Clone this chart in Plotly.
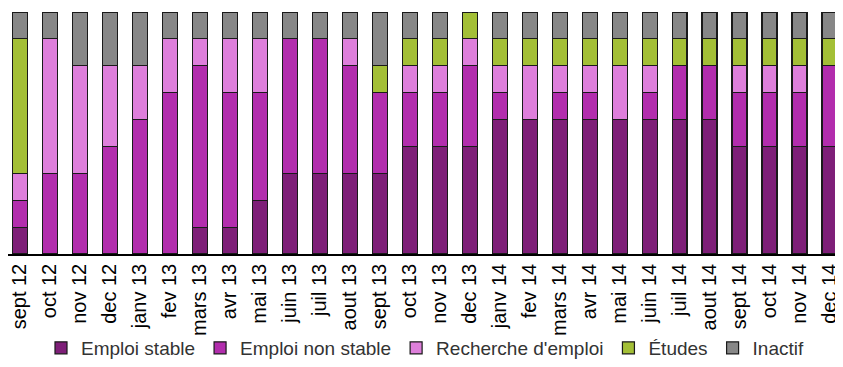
import plotly.graph_objects as go

# monthly situation of the cohort (number of people, 9 in total)
mois = ["sept 12", "oct 12", "nov 12", "dec 12", "janv 13", "fev 13", "mars 13",
        "avr 13", "mai 13", "juin 13", "juil 13", "aout 13", "sept 13", "oct 13",
        "nov 13", "dec 13", "janv 14", "fev 14", "mars 14", "avr 14", "mai 14",
        "juin 14", "juil 14", "aout 14", "sept 14", "oct 14", "nov 14", "dec 14"]

emploi_stable = [1, 0, 0, 0, 0, 0, 1, 1, 2, 3, 3, 3, 3, 4,
                 4, 4, 5, 5, 5, 5, 5, 5, 5, 5, 4, 4, 4, 4]
emploi_non_stable = [1, 3, 3, 4, 5, 6, 6, 5, 4, 5, 5, 4, 3, 2,
                     2, 3, 1, 0, 1, 1, 0, 1, 2, 2, 2, 2, 2, 3]
recherche = [1, 5, 4, 3, 2, 2, 1, 2, 2, 0, 0, 1, 0, 1,
             1, 1, 1, 2, 1, 1, 2, 1, 0, 0, 1, 1, 1, 0]
etudes = [5, 0, 0, 0, 0, 0, 0, 0, 0, 0, 0, 0, 1, 1,
          1, 1, 1, 1, 1, 1, 1, 1, 1, 1, 1, 1, 1, 1]
inactif = [1, 1, 2, 2, 2, 1, 1, 1, 1, 1, 1, 1, 2, 1,
           1, 0, 1, 1, 1, 1, 1, 1, 1, 1, 1, 1, 1, 1]

series = [
    ("Emploi stable", emploi_stable, "#7e1f78"),
    ("Emploi non stable", emploi_non_stable, "#b22dad"),
    ("Recherche d'emploi", recherche, "#de7fdb"),
    ("Études", etudes, "#a3bf36"),
    ("Inactif", inactif, "#878787"),
]

fig = go.Figure()
for nom, vals, col in series:
    fig.add_trace(go.Bar(x=mois, y=vals, name=nom,
                         marker_color=col,
                         marker_line_color="#1a1a1a",
                         marker_line_width=1.2))

# the page body adds an 8px offset, so the figure is a bit smaller than the window
fig.update_layout(
    barmode="stack", bargap=0.5,
    width=835, height=359,
    margin=dict(l=0, r=0, t=4, b=113, autoexpand=False),
    plot_bgcolor="white", paper_bgcolor="white",
    font=dict(family="Liberation Sans, Arial, sans-serif", color="#000"),
    legend=dict(orientation="h", x=0.5, xanchor="center",
                yref="container", y=0.0, yanchor="bottom",
                bgcolor="rgba(0,0,0,0)",
                font=dict(size=19, color="#333"),
                itemwidth=30, traceorder="normal"),
    showlegend=True,
)
fig.update_xaxes(tickangle=-90, tickfont=dict(size=20), automargin=False,
                 ticklabeloverflow="allow",
                 showline=True, linecolor="black", linewidth=1.5,
                 ticks="", range=[-0.4, 27.45])
fig.update_yaxes(visible=False, range=[0, 9], automargin=False)

fig.write_html("out.html")
